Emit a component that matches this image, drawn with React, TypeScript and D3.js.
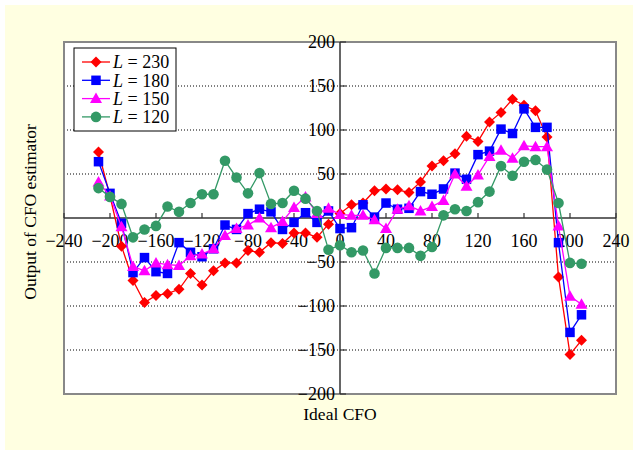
import React from "react";
import * as d3 from "d3";

const xValues = [-210,-200,-190,-180,-170,-160,-150,-140,-130,-120,-110,-100,-90,-80,-70,-60,-50,-40,-30,-20,-10,0,10,20,30,40,50,60,70,80,90,100,110,120,130,140,150,160,170,180,190,200,210];
const l230 = [75,25,-32,-71,-96,-88,-86,-81,-63,-76,-60,-51,-51,-37,-39,-28,-29,-17,-17,-22,-7,5,15,17,31,33,32,29,41,59,65,73,93,87,109,120,135,128,122,92,-67,-155,-139];
const l180 = [64,28,-6,-62,-45,-61,-63,-28,-39,-44,-35,-8,-13,5,10,7,-13,-5,6,-5,8,-12,-11,15,1,17,10,11,30,27,33,51,44,72,76,101,96,124,103,103,-28,-130,-110];
const l150 = [41,25,-10,-55,-60,-51,-53,-54,-43,-41,-35,-20,-12,-8,0,-11,-4,12,24,5,11,4,3,3,-2,-12,10,14,8,13,20,50,36,49,70,77,68,82,81,81,-9,-89,-98];
const l120 = [34,24,16,-22,-13,-9,13,7,17,27,27,65,46,28,51,16,17,31,22,8,-36,-31,-39,-37,-63,-34,-34,-34,-43,-33,3,10,8,18,30,59,48,64,66,55,17,-51,-52];
const xTicks = [-240,-200,-160,-120,-80,-40,0,40,80,120,160,200,240];
const yTicks = [-200,-150,-100,-50,0,50,100,150,200];
const gridTicks = [-150,-100,-50,50,100,150];

const seriesNames = ["230","180","150","120"];
const seriesColors = ["#FF0000","#0000FF","#FF00FF","#339966"];
const seriesShapes = ["diamond","square","triangle","circle"];
const seriesData = [l230,l180,l150,l120];

const W = 633, H = 450;
const X0 = 64, X1 = 616, Y0 = 42, Y1 = 394;

function Marker({ shape, x, y, color }: { shape: string; x: number; y: number; color: string }) {
  if (shape === "diamond") {
    const r = 5.5;
    return <path d={`M${x},${y - r}L${x + r},${y}L${x},${y + r}L${x - r},${y}Z`} fill={color} />;
  }
  if (shape === "square") {
    const s = 9.5;
    return <rect x={x - s / 2} y={y - s / 2} width={s} height={s} fill={color} />;
  }
  if (shape === "triangle") {
    const r = 6;
    return <path d={`M${x},${y - r}L${x + r},${y + r * 0.75}L${x - r},${y + r * 0.75}Z`} fill={color} />;
  }
  return <circle cx={x} cy={y} r={5.3} fill={color} />;
}

export default function App() {
  const xs = d3.scaleLinear().domain([-240, 240]).range([X0, X1]);
  const ys = d3.scaleLinear().domain([-200, 200]).range([Y1, Y0]);
  const line = d3.line<[number, number]>().x(d => xs(d[0])).y(d => ys(d[1]));
  const font = "'Liberation Serif', 'Times New Roman', serif";
  const fmt = (v: number) => (v < 0 ? "\u2212" + Math.abs(v) : String(v));

  return (
    <svg width={W} height={H} style={{ position: "absolute", left: 0, top: 0 }} fontFamily={font}>
      <rect x={0} y={0} width={W} height={H} fill="#ffffff" />
      <rect x={5} y={5} width={W - 5} height={H - 5} fill="#FFFFE1" />
      <rect x={X0} y={Y0} width={X1 - X0} height={Y1 - Y0} fill="#ffffff" />
      {gridTicks.map(t => (
        <line key={t} x1={X0} x2={X1} y1={ys(t)} y2={ys(t)} stroke="#000" strokeWidth={1} strokeDasharray="1,2" />
      ))}
      <rect x={X0} y={Y0} width={X1 - X0} height={Y1 - Y0} fill="none" stroke="#888" strokeWidth={2} />
      {/* axes */}
      <line x1={X0} x2={X1} y1={ys(0)} y2={ys(0)} stroke="#333" strokeWidth={1.5} />
      <line x1={xs(0)} x2={xs(0)} y1={Y0} y2={Y1} stroke="#333" strokeWidth={1.5} />
      {xTicks.map(t => (
        <g key={t}>
          <line x1={xs(t)} x2={xs(t)} y1={ys(0)} y2={ys(0) - 5} stroke="#333" strokeWidth={1.2} />
          <text x={xs(t)} y={247} textAnchor="middle" fontSize={18} fill="#000">{fmt(t)}</text>
        </g>
      ))}
      {yTicks.filter(t => t !== 0).map(t => (
        <g key={t}>
          <line x1={xs(0)} x2={xs(0) + 6} y1={ys(t)} y2={ys(t)} stroke="#333" strokeWidth={1.2} />
          <text x={335} y={ys(t)} dy="0.35em" textAnchor="end" fontSize={18} fill="#000">{fmt(t)}</text>
        </g>
      ))}
      {/* series */}
      {seriesData.map((vals, i) => {
        const pts: [number, number][] = xValues.map((x, j) => [x, vals[j]]);
        return (
          <g key={i}>
            <path d={line(pts) || ""} fill="none" stroke={seriesColors[i]} strokeWidth={1.3} />
            {pts.map((p, j) => (
              <Marker key={j} shape={seriesShapes[i]} x={xs(p[0])} y={ys(p[1])} color={seriesColors[i]} />
            ))}
          </g>
        );
      })}
      {/* legend */}
      <rect x={74} y={48} width={102} height={83} fill="#fff" stroke="#000" strokeWidth={1} />
      {seriesNames.map((n, i) => {
        const cy = 62 + i * 18.3;
        return (
          <g key={n}>
            <line x1={82} x2={110} y1={cy} y2={cy} stroke={seriesColors[i]} strokeWidth={1.3} />
            <Marker shape={seriesShapes[i]} x={96} y={cy} color={seriesColors[i]} />
            <text x={113} y={cy} dy="0.35em" fontSize={18} fill="#000">
              <tspan fontStyle="italic">L</tspan> = {n}
            </text>
          </g>
        );
      })}
      <text x={340} y={414} dy="0.35em" textAnchor="middle" fontSize={17.5} fill="#000">Ideal CFO</text>
      <text transform={`translate(30,212) rotate(-90)`} dy="0.35em" textAnchor="middle" fontSize={17.5} fill="#000">Output of CFO estimator</text>
    </svg>
  );
}
